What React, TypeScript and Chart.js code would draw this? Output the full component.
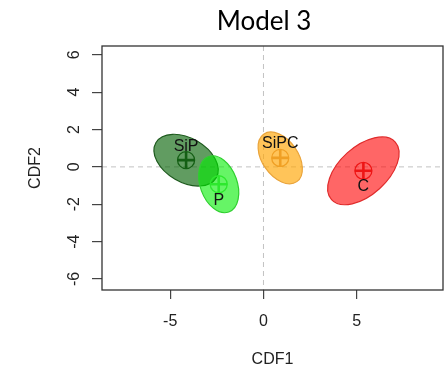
import React, { useEffect, useRef } from "react";
import { Chart, registerables } from "chart.js";

Chart.register(...registerables);

const groups = ["SiP", "P", "SiPC", "C"];
const centerX = [-4.15, -2.4, 0.9, 5.36];
const centerY = [0.36, -0.93, 0.48, -0.21];
const semiMajor = [1.87, 1.58, 1.55, 2.3];
const semiMinor = [1.18, 0.99, 0.96, 1.29];
const angleDeg = [-30, -70, -55, 42];
const labelSide = ["above", "below", "above", "below"];
const fillColors = ["rgba(0,95,0,0.62)", "rgba(0,238,0,0.6)", "rgba(255,165,0,0.65)", "rgba(255,0,0,0.6)"];
const edgeColors = ["#1d5a1d", "#2fcf2f", "#eaa43a", "#e02a2a"];
const markerColors = ["#145f14", "#2ee82e", "#f0a024", "#ee1515"];
const xTicks = [-5, 0, 5];
const yTicks = [-6, -4, -2, 0, 2, 4, 6];
const xRange = [-8.66, 9.63];
const yRange = [-6.59, 6.47];
const titleText = "Model 3";
const xTitle = "CDF1";
const yTitle = "CDF2";

const SANS = "'Liberation Sans', Arial, sans-serif";

const overlayPlugin = {
  id: "overlay",
  beforeDatasetsDraw(chart: any) {
    const { ctx, chartArea: a, scales } = chart;
    const xs = scales.x, ys = scales.y;
    ctx.save();
    ctx.strokeStyle = "#c2c2c2";
    ctx.lineWidth = 1;
    ctx.setLineDash([5, 4]);
    const x0 = xs.getPixelForValue(0);
    const y0 = ys.getPixelForValue(0);
    ctx.beginPath();
    ctx.moveTo(x0, a.top);
    ctx.lineTo(x0, a.bottom);
    ctx.moveTo(a.left, y0);
    ctx.lineTo(a.right, y0);
    ctx.stroke();
    ctx.setLineDash([]);
    for (let i = 0; i < groups.length; i++) {
      const t = (angleDeg[i] * Math.PI) / 180;
      const px = xs.getPixelForValue(centerX[i]);
      const py = ys.getPixelForValue(centerY[i]);
      const ax = xs.getPixelForValue(centerX[i] + semiMajor[i] * Math.cos(t)) - px;
      const ay = ys.getPixelForValue(centerY[i] + semiMajor[i] * Math.sin(t)) - py;
      const bx = xs.getPixelForValue(centerX[i] - semiMinor[i] * Math.sin(t)) - px;
      const by = ys.getPixelForValue(centerY[i] + semiMinor[i] * Math.cos(t)) - py;
      ctx.save();
      ctx.transform(ax, ay, bx, by, px, py);
      ctx.beginPath();
      ctx.arc(0, 0, 1, 0, Math.PI * 2);
      ctx.restore();
      ctx.fillStyle = fillColors[i];
      ctx.fill();
      ctx.strokeStyle = edgeColors[i];
      ctx.lineWidth = 1.2;
      ctx.stroke();
    }
    ctx.restore();
  },
  afterDraw(chart: any) {
    const { ctx, chartArea: a, scales } = chart;
    const xs = scales.x, ys = scales.y;
    ctx.save();
    ctx.strokeStyle = "#333";
    ctx.lineWidth = 1.3;
    ctx.strokeRect(a.left, a.top, a.right - a.left, a.bottom - a.top);
    ctx.fillStyle = "#222";
    ctx.font = `16px ${SANS}`;
    ctx.textAlign = "center";
    ctx.textBaseline = "middle";
    for (const v of xTicks) ctx.fillText(String(v), xs.getPixelForValue(v), 321.5);
    for (const v of yTicks) {
      ctx.save();
      ctx.translate(75, ys.getPixelForValue(v));
      ctx.rotate(-Math.PI / 2);
      ctx.fillText(String(v), 0, 0);
      ctx.restore();
    }
    ctx.fillStyle = "#111";
    for (let i = 0; i < groups.length; i++) {
      const px = xs.getPixelForValue(centerX[i]);
      const py = ys.getPixelForValue(centerY[i]);
      const off = labelSide[i] === "above" ? -14 : 16;
      ctx.fillText(groups[i], px, py + off);
    }
    ctx.font = "26px Lato, 'Open Sans', sans-serif";
    ctx.textBaseline = "alphabetic";
    ctx.fillStyle = "#000";
    ctx.fillText(titleText, 264, 30);
    ctx.font = `16px ${SANS}`;
    ctx.fillStyle = "#222";
    ctx.textBaseline = "middle";
    ctx.fillText(xTitle, (a.left + a.right) / 2, 360);
    ctx.translate(35.5, (a.top + a.bottom) / 2);
    ctx.rotate(-Math.PI / 2);
    ctx.fillText(yTitle, 0, 0);
    ctx.restore();
  },
};

export default function App() {
  const ref = useRef<HTMLCanvasElement>(null);
  useEffect(() => {
    if (!ref.current) return;
    const pts = groups.map((_, i) => ({ x: centerX[i], y: centerY[i] }));
    const chart = new Chart(ref.current, {
      type: "scatter",
      data: {
        datasets: [
          {
            data: pts,
            pointStyle: "circle",
            pointRadius: 8.5,
            pointBorderWidth: 1.3,
            pointBackgroundColor: "rgba(0,0,0,0)",
            pointBorderColor: markerColors,
          },
          {
            data: pts,
            pointStyle: "cross",
            pointRadius: 8.5,
            pointBorderWidth: 2.6,
            pointBorderColor: markerColors,
          },
        ],
      },
      options: {
        responsive: false,
        animation: false,
        events: [],
        layout: { autoPadding: false, padding: { left: 0, top: 46, right: 5, bottom: 0 } },
        plugins: { legend: { display: false }, tooltip: { enabled: false }, title: { display: false } },
        scales: {
          x: {
            type: "linear",
            min: xRange[0],
            max: xRange[1],
            afterFit(s: any) { s.height = 81; s.paddingLeft = 0; s.paddingRight = 0; s.paddingTop = 0; s.paddingBottom = 0; },
            afterBuildTicks(s: any) { s.ticks = xTicks.map((v) => ({ value: v })); },
            grid: { drawOnChartArea: false, drawTicks: true, tickLength: 9, color: "#444", lineWidth: 1.2 },
            border: { display: false },
            ticks: { display: false },
          },
          y: {
            type: "linear",
            min: yRange[0],
            max: yRange[1],
            afterFit(s: any) { s.width = 102; s.paddingLeft = 0; s.paddingRight = 0; s.paddingTop = 0; s.paddingBottom = 0; },
            afterBuildTicks(s: any) { s.ticks = yTicks.map((v) => ({ value: v })); },
            grid: { drawOnChartArea: false, drawTicks: true, tickLength: 10, color: "#444", lineWidth: 1.2 },
            border: { display: false },
            ticks: { display: false },
          },
        },
      },
      plugins: [overlayPlugin],
    });
    return () => chart.destroy();
  }, []);
  return (
    <div style={{ position: "absolute", left: 0, top: 0, width: 448, height: 371, background: "#fff" }}>
      <canvas ref={ref} width={448} height={371} style={{ width: 448, height: 371, display: "block" }} />
    </div>
  );
}
